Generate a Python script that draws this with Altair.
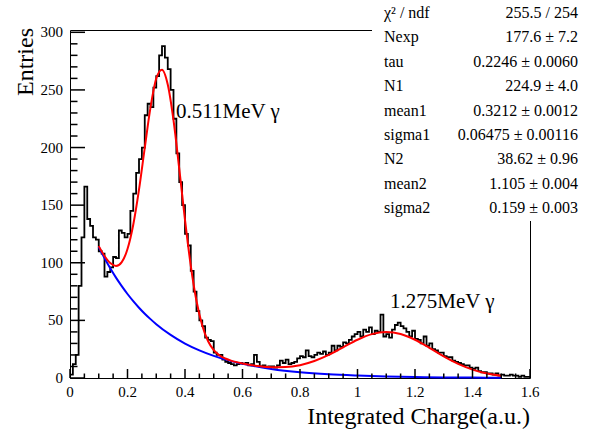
import altair as alt
import numpy as np
import pandas as pd

# ---------------- data ----------------
bin_width = 0.01
hist_counts = [
    3, 12, 20, 80, 122, 166, 138, 132, 122, 120,          # 0.00-0.09
    110, 108, 88, 92, 96, 105, 104, 128, 126, 122,        # 0.10-0.19
    125, 145, 160, 178, 190, 200, 228, 238, 235, 252,     # 0.20-0.29
    262, 280, 288, 278, 268, 250, 225, 195, 170, 150,     # 0.30-0.39
    125, 115, 93, 75, 58, 50, 45, 35, 33, 32,             # 0.40-0.49
    22, 20, 20, 16, 14, 13, 12, 11, 12, 13,               # 0.50-0.59
    12, 13, 11, 12, 20, 14, 10, 11, 9, 10,                # 0.60-0.69
    10, 9, 11, 15, 13, 16, 12, 13, 14, 17,                # 0.70-0.79
    19, 18, 24, 19, 18, 20, 22, 21, 23, 20,               # 0.80-0.89
    22, 28, 24, 28, 27, 31, 30, 33, 36, 38,               # 0.90-0.99
    40, 36, 42, 40, 44, 38, 41, 40, 55, 36,               # 1.00-1.09
    38, 35, 42, 46, 48, 45, 43, 40, 36, 41,               # 1.10-1.19
    34, 33, 30, 36, 28, 30, 25, 24, 22, 22,               # 1.20-1.29
    19, 18, 18, 15, 14, 13, 12, 11, 11, 9,                # 1.30-1.39
    8, 9, 6, 5, 5, 4, 4, 3, 4, 2,                         # 1.40-1.49
    3, 2, 2, 3, 2, 2, 1, 2, 1, 1,                         # 1.50-1.59
]

fit_x = [0.10, 0.12, 0.14, 0.16, 0.18, 0.20, 0.22, 0.24, 0.26, 0.28, 0.30,
         0.32, 0.34, 0.36, 0.38, 0.40, 0.42, 0.44, 0.46, 0.48, 0.50, 0.52,
         0.54, 0.56, 0.60, 0.65, 0.70, 0.75, 0.80, 0.85, 0.90, 0.95, 1.00,
         1.05, 1.10, 1.15, 1.20, 1.25, 1.30, 1.35, 1.40, 1.45, 1.50]
fit_total = [114.5, 105.9, 99.7, 97.2, 100.6, 111.9, 133.0, 163.4, 199.7, 234.8, 259.9,
             267.6, 254.7, 223.7, 181.6, 137.2, 97.6, 66.8, 45.5, 32.1, 24.2, 19.6,
             16.9, 15.1, 12.6, 10.5, 9.4, 9.5, 11.1, 14.7, 20.0, 26.6, 33.2,
             38.1, 39.9, 38.2, 33.2, 26.2, 18.7, 12.2, 7.3, 3.9, 2.0]

bkg_x = [0.10, 0.12, 0.14, 0.16, 0.18, 0.20, 0.22, 0.24, 0.26, 0.28, 0.30, 0.35,
         0.40, 0.45, 0.50, 0.55, 0.60, 0.70, 0.80, 0.90, 1.00, 1.10, 1.20, 1.30,
         1.40, 1.50]
bkg_y = [113.8, 104.1, 95.2, 87.1, 79.7, 72.9, 66.7, 61.0, 55.8, 51.1, 46.7, 37.4,
         29.9, 24.0, 19.2, 15.3, 12.3, 7.9, 5.0, 3.2, 2.1, 1.3, 0.85, 0.54,
         0.35, 0.22]

stat_names = ["χ² / ndf", "Nexp", "tau", "N1", "mean1", "sigma1", "N2", "mean2", "sigma2"]
stat_values = ["255.5 / 254", "177.6 ± 7.2", "0.2246 ± 0.0060", "224.9 ± 4.0",
               "0.3212 ± 0.0012", "0.06475 ± 0.00116", "38.62 ± 0.96",
               "1.105 ± 0.004", "0.159 ± 0.003"]

peak_labels = ["0.511MeV γ", "1.275MeV γ"]
peak_label_x = [0.369, 1.113]
peak_label_y = [225.7, 60.8]

x_title = "Integrated Charge(a.u.)"
y_title = "Entries"

x_major = [0, 0.2, 0.4, 0.6, 0.8, 1.0, 1.2, 1.4, 1.6]
x_minor = [round(0.05 * i, 2) for i in range(33) if i % 4 != 0]
y_major = [0, 50, 100, 150, 200, 250, 300]
y_minor = [v for v in range(10, 301, 10) if v % 50 != 0]

# ---------------- chart ----------------
W, H = 460, 348
SERIF = "Liberation Serif"
x_scale = alt.Scale(domain=[0, 1.6], nice=False, zero=False)
y_scale = alt.Scale(domain=[0, 302], nice=False)

def X(field):
    return alt.X(field, type="quantitative", scale=x_scale, axis=None)

def Y(field):
    return alt.Y(field, type="quantitative", scale=y_scale, axis=None)

edges = [round(i * bin_width, 2) for i in range(len(hist_counts))]
hist_df = pd.DataFrame({"x": edges + [1.6], "y": hist_counts + [hist_counts[-1]]})

hist = alt.Chart(hist_df).mark_line(
    interpolate="step-after", color="black", strokeWidth=1.8
).encode(x=X("x"), y=Y("y"))

bkg = alt.Chart(pd.DataFrame({"x": bkg_x, "y": bkg_y})).mark_line(
    interpolate="monotone", color="#0000ff", strokeWidth=2
).encode(x=X("x"), y=Y("y"))

fit = alt.Chart(pd.DataFrame({"x": fit_x, "y": fit_total})).mark_line(
    interpolate="monotone", color="#ff0000", strokeWidth=2
).encode(x=X("x"), y=Y("y"))

def yticks(vals, length):
    return alt.Chart(pd.DataFrame({"v": vals})).mark_rule(color="black", strokeWidth=1.5).encode(
        y=Y("v"), x=alt.value(0), x2=alt.value(length))

def xticks(vals, length):
    return alt.Chart(pd.DataFrame({"v": vals})).mark_rule(color="black", strokeWidth=1.5).encode(
        x=X("v"), y=alt.value(H), y2=alt.value(H - length))

# tick labels (placed through the scales)
ylabels = alt.Chart(pd.DataFrame({"v": y_major})).mark_text(
    font=SERIF, fontSize=15, align="right", baseline="middle", color="black"
).encode(y=Y("v"), x=alt.value(-7), text=alt.Text("v:Q", format="d"))

xlabels = alt.Chart(pd.DataFrame({"v": x_major})).mark_text(
    font=SERIF, fontSize=15, align="center", baseline="top", color="black"
).encode(x=X("v"), y=alt.value(H + 7), text=alt.Text("v:Q", format=".1~f"))

one = pd.DataFrame({"a": [0]})
xtitle = alt.Chart(one).mark_text(
    font=SERIF, fontSize=24, align="right", baseline="alphabetic", color="black"
).encode(x=alt.value(W), y=alt.value(H + 46), text=alt.value(x_title))
ytitle = alt.Chart(one).mark_text(
    font=SERIF, fontSize=24, align="right", baseline="alphabetic", angle=270, color="black"
).encode(x=alt.value(-37), y=alt.value(-2), text=alt.value(y_title))

ann = alt.Chart(pd.DataFrame({"t": peak_labels, "x": peak_label_x, "y": peak_label_y})).mark_text(
    font=SERIF, fontSize=21, align="left", baseline="alphabetic", color="black"
).encode(x=X("x"), y=Y("y"), text="t:N")

box = alt.Chart(one).mark_rect(fill="white").encode(
    x=alt.value(302), x2=alt.value(540), y=alt.value(-35), y2=alt.value(191))

stat_layers = []
for i, (nm, vl) in enumerate(zip(stat_names, stat_values)):
    py = -12 + 24.4 * i
    stat_layers.append(alt.Chart(one).mark_text(
        font=SERIF, fontSize=16, align="left", baseline="alphabetic", color="black"
    ).encode(x=alt.value(314), y=alt.value(py), text=alt.value(nm)))
    stat_layers.append(alt.Chart(one).mark_text(
        font=SERIF, fontSize=16, align="right", baseline="alphabetic", color="black"
    ).encode(x=alt.value(508), y=alt.value(py), text=alt.value(vl)))

chart = alt.layer(
    hist, bkg, fit,
    yticks(y_major, 15), yticks(y_minor, 7.5), xticks(x_major, 9), xticks(x_minor, 4.5),
    ylabels, xlabels, xtitle, ytitle,
    ann, box, *stat_layers,
).properties(
    width=W, height=H,
    autosize=alt.AutoSizeParams(type="none"),
    padding={"left": 70, "top": 30, "right": 65, "bottom": 54},
    background="white",
).configure_view(
    stroke="black", strokeWidth=1
)

chart.save("out.html", embed_options={"renderer": "svg", "actions": False})
